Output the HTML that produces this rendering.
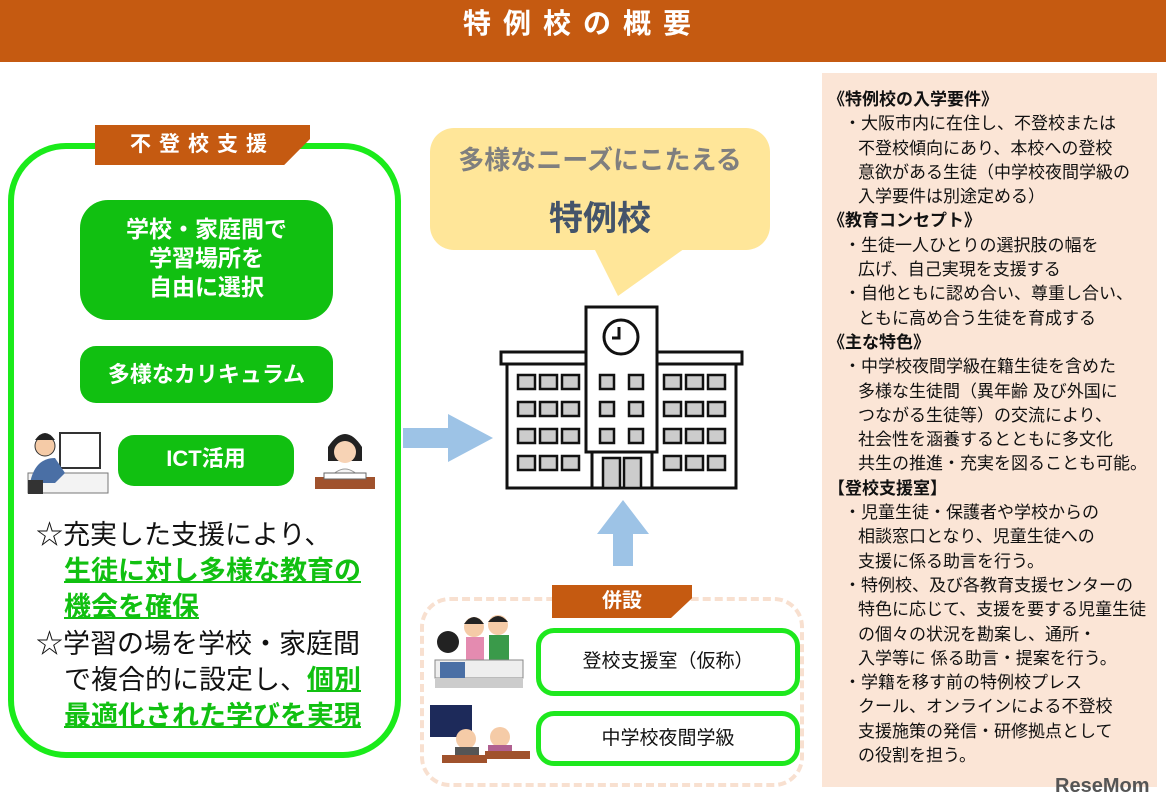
<!DOCTYPE html>
<html><head><meta charset="utf-8"><style>
body{margin:0;width:1166px;height:809px;position:relative;background:#fff;font-family:"Liberation Sans","Noto Sans CJK JP",sans-serif;overflow:hidden}
.a{position:absolute}
.hdr{left:0;top:0;width:1166px;height:62px;background:#c55a11;color:#fff;font-weight:bold;font-size:28px;text-align:center;line-height:48px;letter-spacing:12px}
.gb{background:#11c011;color:#fff;font-weight:bold;text-align:center;border-radius:22px}
.tab{background:#c55a11;color:#fff;font-weight:bold;text-align:center}
.rp{left:822px;top:73px;width:335px;height:714px;background:#fbe5d6;font-size:17px;line-height:24.3px;color:#111}
.rp div{white-space:nowrap}
.h{font-weight:bold;padding-left:6px}
.i{padding-left:36px}
.b{padding-left:36px;text-indent:-14px}
.lt{left:36px;font-size:27px;line-height:36.5px;color:#111;white-space:nowrap}
.u{color:#11c011;font-weight:bold;text-decoration:underline;text-decoration-thickness:2px}
.wb{border:5px solid #1ee81e;border-radius:18px;background:#fff;font-size:19px;text-align:center;color:#111;box-sizing:border-box}
</style></head><body>
<div class="a hdr">特例校の概要</div>

<div class="a" style="left:8px;top:143px;width:381px;height:603px;border:6px solid #1aeb1a;border-radius:58px"></div>
<div class="a tab" style="left:95px;top:125px;width:215px;height:40px;font-size:21px;line-height:40px;letter-spacing:8px;clip-path:polygon(0 0,100% 0,100% 35%,88% 100%,0 100%)">不登校支援</div>
<div class="a gb" style="left:80px;top:200px;width:253px;height:120px;font-size:23px;line-height:29px;padding-top:15px;box-sizing:border-box;border-radius:28px">学校・家庭間で<br>学習場所を<br>自由に選択</div>
<div class="a gb" style="left:80px;top:346px;width:253px;height:57px;font-size:22px;line-height:57px;border-radius:16px">多様なカリキュラム</div>
<div class="a gb" style="left:118px;top:435px;width:176px;height:51px;font-size:22px;line-height:48px;border-radius:16px">ICT活用</div>
<svg class="a" style="left:20px;top:428px" width="100" height="70"><rect x="40" y="5" width="40" height="35" fill="#fff" stroke="#333" stroke-width="2"/><rect x="8" y="45" width="80" height="20" fill="#f3f3f3" stroke="#777"/><circle cx="25" cy="18" r="10" fill="#f5cba7" stroke="#333"/><path d="M15 12 q10 -14 20 0" fill="#222"/><path d="M10 55 q5 -25 25 -25 l10 15 -10 10z" fill="#4a6fa5"/><rect x="8" y="52" width="15" height="14" fill="#333"/></svg>
<svg class="a" style="left:310px;top:425px" width="70" height="75"><path d="M18 22 q17 -26 34 0 v14 h-34z" fill="#222"/><circle cx="35" cy="27" r="11" fill="#f7d3b5"/><path d="M18 55 q17 -22 34 0z" fill="#f5f5f5" stroke="#999"/><rect x="5" y="52" width="60" height="12" fill="#a0522d"/><rect x="14" y="48" width="42" height="6" fill="#fff" stroke="#666"/></svg>
<div class="a lt" style="top:517px">☆充実した支援により、</div>
<div class="a lt" style="left:64px;top:553px"><span class="u">生徒に対し多様な教育の</span></div>
<div class="a lt" style="left:64px;top:589px"><span class="u">機会を確保</span></div>
<div class="a lt" style="top:626px">☆学習の場を学校・家庭間</div>
<div class="a lt" style="left:64px;top:662px">で複合的に設定し、<span class="u">個別</span></div>
<div class="a lt" style="left:64px;top:698px"><span class="u">最適化された学びを実現</span></div>

<svg class="a" style="left:428px;top:126px" width="345" height="172"><rect x="2" y="2" width="340" height="122" rx="24" fill="#ffe699"/><polygon points="165,120 260,120 190,170" fill="#ffe699"/></svg>
<div class="a" style="left:430px;top:140px;width:340px;text-align:center;font-size:26px;font-weight:bold;color:#7f7f7f">多様なニーズにこたえる</div>
<div class="a" style="left:430px;top:191px;width:340px;text-align:center;font-size:34px;font-weight:bold;color:#44546a">特例校</div>

<svg class="a" style="left:496px;top:300px" width="252" height="195" viewBox="0 0 252 195">
<g stroke="#111" stroke-width="3" fill="#fff">
<rect x="5" y="52" width="241" height="12"/>
<rect x="11" y="64" width="229" height="124"/>
<rect x="90" y="7" width="71" height="145"/>
<circle cx="125" cy="37" r="17"/>
<rect x="96" y="152" width="60" height="36"/>
</g>
<path d="M123 27 v11 h-7" stroke="#111" stroke-width="3" fill="none"/>
<g fill="#ccc" stroke="#111" stroke-width="2.5">
<rect x="22" y="75" width="17" height="14"/><rect x="44" y="75" width="17" height="14"/><rect x="66" y="75" width="17" height="14"/>
<rect x="22" y="102" width="17" height="14"/><rect x="44" y="102" width="17" height="14"/><rect x="66" y="102" width="17" height="14"/>
<rect x="22" y="129" width="17" height="14"/><rect x="44" y="129" width="17" height="14"/><rect x="66" y="129" width="17" height="14"/>
<rect x="22" y="156" width="17" height="14"/><rect x="44" y="156" width="17" height="14"/><rect x="66" y="156" width="17" height="14"/>
<rect x="168" y="75" width="17" height="14"/><rect x="190" y="75" width="17" height="14"/><rect x="212" y="75" width="17" height="14"/>
<rect x="168" y="102" width="17" height="14"/><rect x="190" y="102" width="17" height="14"/><rect x="212" y="102" width="17" height="14"/>
<rect x="168" y="129" width="17" height="14"/><rect x="190" y="129" width="17" height="14"/><rect x="212" y="129" width="17" height="14"/>
<rect x="168" y="156" width="17" height="14"/><rect x="190" y="156" width="17" height="14"/><rect x="212" y="156" width="17" height="14"/>
<rect x="104" y="75" width="14" height="14"/><rect x="133" y="75" width="14" height="14"/>
<rect x="104" y="102" width="14" height="14"/><rect x="133" y="102" width="14" height="14"/>
<rect x="104" y="129" width="14" height="14"/><rect x="133" y="129" width="14" height="14"/>
<rect x="107" y="158" width="17" height="30"/><rect x="128" y="158" width="17" height="30"/>
</g></svg>

<svg class="a" style="left:403px;top:414px" width="92" height="48"><polygon points="0,14 45,14 45,0 90,24 45,48 45,34 0,34" fill="#9dc3e6"/></svg>
<svg class="a" style="left:597px;top:500px" width="52" height="66"><polygon points="26,0 52,34 36,34 36,66 16,66 16,34 0,34" fill="#9dc3e6"/></svg>

<div class="a" style="left:420px;top:597px;width:384px;height:190px;border:4px dashed #f8e0d0;border-radius:30px;box-sizing:border-box"></div>
<div class="a tab" style="left:552px;top:585px;width:140px;height:33px;font-size:20px;line-height:33px;clip-path:polygon(0 0,100% 0,100% 40%,85% 100%,0 100%)">併設</div>
<div class="a wb" style="left:536px;top:628px;width:264px;height:68px;line-height:58px">登校支援室（仮称）</div>
<div class="a wb" style="left:536px;top:711px;width:264px;height:55px;line-height:45px">中学校夜間学級</div>
<svg class="a" style="left:432px;top:612px" width="95" height="80"><circle cx="42" cy="15" r="10" fill="#f5cba7"/><path d="M32 12 q10-14 20 0" fill="#222"/><rect x="34" y="25" width="18" height="25" fill="#e48bb0"/><circle cx="66" cy="13" r="10" fill="#f5cba7"/><path d="M56 10 q10-12 20 0" fill="#222"/><rect x="57" y="23" width="20" height="27" fill="#3a9a4a"/><circle cx="16" cy="30" r="11" fill="#222"/><rect x="3" y="48" width="88" height="18" fill="#eee" stroke="#888"/><rect x="8" y="50" width="25" height="25" fill="#4a6fa5"/><rect x="3" y="66" width="88" height="10" fill="#ccc"/></svg>
<svg class="a" style="left:430px;top:705px" width="100" height="62"><rect x="0" y="0" width="42" height="32" fill="#1d2a5a"/><circle cx="36" cy="34" r="10" fill="#f5cba7"/><rect x="25" y="42" width="24" height="12" fill="#555"/><circle cx="70" cy="32" r="10" fill="#f5cba7"/><rect x="58" y="40" width="24" height="12" fill="#b06090"/><rect x="12" y="50" width="45" height="8" fill="#a0522d"/><rect x="55" y="46" width="45" height="8" fill="#a0522d"/></svg>

<div class="a rp"><div style="height:15px"></div>
<div class="h">《特例校の入学要件》</div>
<div class="b">・大阪市内に在住し、不登校または</div>
<div class="i">不登校傾向にあり、本校への登校</div>
<div class="i">意欲がある生徒（中学校夜間学級の</div>
<div class="i">入学要件は別途定める）</div>
<div class="h">《教育コンセプト》</div>
<div class="b">・生徒一人ひとりの選択肢の幅を</div>
<div class="i">広げ、自己実現を支援する</div>
<div class="b">・自他ともに認め合い、尊重し合い、</div>
<div class="i">ともに高め合う生徒を育成する</div>
<div class="h">《主な特色》</div>
<div class="b">・中学校夜間学級在籍生徒を含めた</div>
<div class="i">多様な生徒間（異年齢 及び外国に</div>
<div class="i">つながる生徒等）の交流により、</div>
<div class="i">社会性を涵養するとともに多文化</div>
<div class="i">共生の推進・充実を図ることも可能。</div>
<div class="h">【登校支援室】</div>
<div class="b">・児童生徒・保護者や学校からの</div>
<div class="i">相談窓口となり、児童生徒への</div>
<div class="i">支援に係る助言を行う。</div>
<div class="b">・特例校、及び各教育支援センターの</div>
<div class="i">特色に応じて、支援を要する児童生徒</div>
<div class="i">の個々の状況を勘案し、通所・</div>
<div class="i">入学等に 係る助言・提案を行う。</div>
<div class="b">・学籍を移す前の特例校プレス</div>
<div class="i">クール、オンラインによる不登校</div>
<div class="i">支援施策の発信・研修拠点として</div>
<div class="i">の役割を担う。</div>
</div>
<div class="a" style="left:1055px;top:775px;font-size:20px;font-weight:bold;color:#555">ReseMom</div>
</body></html>
